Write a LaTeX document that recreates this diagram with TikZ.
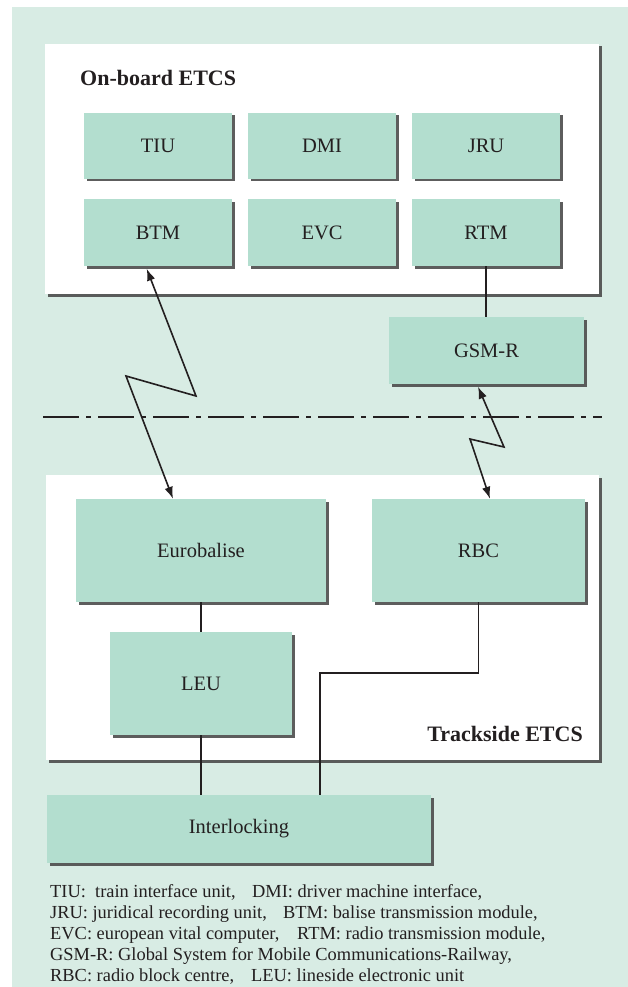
\documentclass[tikz,border=0pt]{standalone}
\usepackage{fontspec}
\setmainfont{Liberation Serif}
\usetikzlibrary{arrows.meta,shadows}
\definecolor{bgcol}{RGB}{216,236,228}
\definecolor{boxcol}{RGB}{179,222,207}
\definecolor{inkcol}{RGB}{35,31,32}
\begin{document}
\begin{tikzpicture}[x=1pt,y=-1pt,
  shd/.style={drop shadow={shadow xshift=2.5pt,shadow yshift=-2.5pt,fill=black!70,opacity=.9}},
  frame/.style={rectangle,fill=white,inner sep=0pt,shd},
  gbox/.style={rectangle,fill=boxcol,inner sep=0pt,shd,text=inkcol,font=\fontsize{20.5}{24}\selectfont},
  head/.style={font=\fontsize{22}{26}\selectfont\bfseries,text=inkcol,inner sep=0pt},
  legend/.style={font=\fontsize{18.4}{21}\selectfont,text=inkcol,inner sep=0pt,anchor=base west},
  conn/.style={draw=inkcol,line width=2pt},
  zz/.style={draw=inkcol,line width=1.6pt,{Latex[length=12pt,width=8.5pt]}-{Latex[length=12pt,width=8.5pt]}}
]
\useasboundingbox (0,0) rectangle (628,987);
\fill[bgcol] (12,7) rectangle (628,987);

% frames
\node[frame,minimum width=554pt,minimum height=250pt] (onboard) at (322,169) {};
\node[frame,minimum width=553pt,minimum height=285pt] (trackside) at (322.5,617.5) {};
\node[head,anchor=base west] (obt) at (80,86) {On-board ETCS};
\node[head,anchor=base east] (tst) at (583,741) {Trackside ETCS};

% separator
\draw[inkcol,line width=1.6pt,dash pattern=on 36pt off 7pt on 5pt off 7pt] (43,417) -- (602,417);

% on-board units
\node[gbox,minimum width=148pt,minimum height=66pt] (TIU) at (158,146) {TIU};
\node[gbox,minimum width=148pt,minimum height=66pt] (DMI) at (322,146) {DMI};
\node[gbox,minimum width=148pt,minimum height=66pt] (JRU) at (486,146) {JRU};
\node[gbox,minimum width=148pt,minimum height=67pt] (BTM) at (158,232.5) {BTM};
\node[gbox,minimum width=148pt,minimum height=67pt] (EVC) at (322,232.5) {EVC};
\node[gbox,minimum width=148pt,minimum height=67pt] (RTM) at (486,232.5) {RTM};
\node[gbox,minimum width=195pt,minimum height=67pt] (GSMR) at (486.5,350.5) {GSM-R};

% trackside units
\node[gbox,minimum width=250pt,minimum height=103pt] (Euro) at (201,550.5) {Eurobalise};
\node[gbox,minimum width=213pt,minimum height=103pt] (RBC) at (478.5,550.5) {RBC};
\node[gbox,minimum width=182pt,minimum height=103pt] (LEU) at (201,683.5) {LEU};
\node[gbox,minimum width=384pt,minimum height=68pt] (IXL) at (239,829) {Interlocking};

% connectors
\draw[conn] (RTM.south) -- (RTM.south |- GSMR.north);
\draw[conn] (Euro.south) -- (LEU.north);
\draw[conn] (LEU.south) -- (LEU.south |- IXL.north);
\coordinate (bend) at (320,673);
\draw[draw=inkcol,line width=1.6pt] (RBC.south) |- (bend) -- (bend |- IXL.north);

\coordinate (z1) at (196,396);
\coordinate (z2) at (126,376);
\draw[zz] ([xshift=-11.3pt,yshift=-2.5pt]BTM.south) -- (z1) -- (z2) -- ([xshift=-28pt]Euro.north);
\coordinate (z3) at (504,447);
\coordinate (z4) at (470,439);
\draw[zz] ([xshift=-8.5pt,yshift=-2.5pt]GSMR.south) -- (z3) -- (z4) -- ([xshift=11.5pt]RBC.north);

% legend
\node[legend] (l1a) at (50,897) {TIU:\ \ train interface unit,};
\node[legend] (l1b) at (252,897) {DMI: driver machine interface,};
\node[legend] (l2a) at (50,918) {JRU: juridical recording unit,};
\node[legend] (l2b) at (283,918) {BTM: balise transmission module,};
\node[legend] (l3a) at (50,939) {EVC: european vital computer,};
\node[legend] (l3b) at (297,939) {RTM: radio transmission module,};
\node[legend] (l4) at (50,960) {GSM-R: Global System for Mobile Communications-Railway,};
\node[legend] (l5a) at (50,981) {RBC: radio block centre,};
\node[legend] (l5b) at (251,981) {LEU: lineside electronic unit};
\end{tikzpicture}
\end{document}
